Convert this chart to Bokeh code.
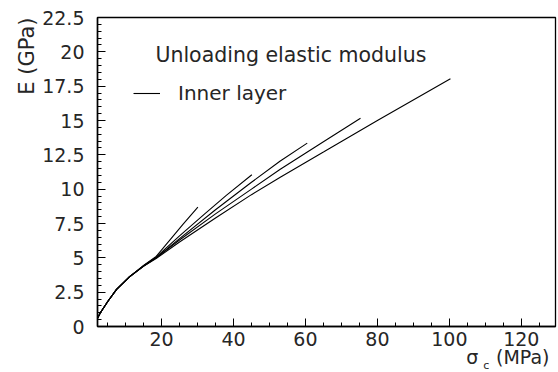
from bokeh.plotting import figure
from bokeh.models import FixedTicker, Label, Legend, LegendItem, Range1d, LinearAxis, Title
from bokeh.embed import file_html
from bokeh.resources import INLINE

# ---- data (sigma_c in MPa, E in GPa) ----
s1 = [2.1, 3, 5, 7.5, 11, 15, 18.5, 22, 26, 30.1]
e1 = [0.55, 1.0, 1.8, 2.7, 3.6, 4.45, 5.1, 6.2, 7.45, 8.69]
s2 = [2.1, 3, 5, 7.5, 11, 15, 18.5, 25, 32, 38, 45.1]
e2 = [0.55, 1.0, 1.8, 2.7, 3.6, 4.42, 5.05, 6.6, 8.2, 9.55, 11.05]
s3 = [2.1, 3, 5, 7.5, 11, 15, 18.5, 25, 35, 45, 53, 60.5]
e3 = [0.55, 1.0, 1.8, 2.7, 3.6, 4.4, 5.0, 6.4, 8.5, 10.5, 12.05, 13.35]
s4 = [2.1, 3, 5, 7.5, 11, 15, 18.5, 25, 35, 45, 53, 65, 75.3]
e4 = [0.55, 1.0, 1.8, 2.7, 3.6, 4.4, 5.0, 6.3, 8.2, 10.0, 11.45, 13.45, 15.17]
s5 = [2.1, 3, 5, 7.5, 11, 15, 18.5, 25, 35, 45, 53, 65, 80, 100.3]
e5 = [0.55, 1.0, 1.8, 2.7, 3.6, 4.38, 4.95, 6.15, 7.9, 9.6, 10.87, 12.7, 15.0, 18.04]
curves = [(s1, e1), (s2, e2), (s3, e3), (s4, e4), (s5, e5)]

x_ticks = [20, 40, 60, 80, 100, 120]
y_ticks = [0, 2.5, 5, 7.5, 10, 12.5, 15, 17.5, 20, 22.5]
y_tick_labels = {0: "0", 2.5: "2.5", 5: "5", 7.5: "7.5", 10: "10", 12.5: "12.5",
                 15: "15", 17.5: "17.5", 20: "20", 22.5: "22.5"}
title_text = "Unloading elastic modulus"
legend_text = "Inner layer"
y_title = "E (GPa)"
x_title_parts = {106.4: "σ", 120.4: "(MPa)"}
x_title_sub = "c"

FONT = "DejaVu Sans"
TXT = "#262626"

p = figure(width=558, height=372, output_backend="svg", toolbar_location=None,
           x_range=Range1d(2.2, 129.5), y_range=Range1d(0, 22.5),
           min_border_left=97, min_border_right=3, min_border_top=17, min_border_bottom=46)
p.background_fill_color = "white"
p.border_fill_color = "white"
p.outline_line_color = "black"
p.outline_line_width = 1.3
p.grid.visible = False

for ax in (p.xaxis[0], p.yaxis[0]):
    ax.axis_line_color = "black"
    ax.axis_line_width = 1.5
    ax.major_tick_in = 8
    ax.major_tick_out = 0
    ax.minor_tick_in = 4
    ax.minor_tick_out = 0
    ax.major_tick_line_color = "black"
    ax.minor_tick_line_color = "black"
    ax.major_label_text_font = FONT
    ax.major_label_text_font_size = "19px"
    ax.major_label_text_color = TXT

p.xaxis.ticker = FixedTicker(ticks=x_ticks, minor_ticks=list(range(5, 130, 5)))
p.yaxis.ticker = FixedTicker(ticks=y_ticks, minor_ticks=[i * 0.5 for i in range(0, 46)])
p.yaxis.major_label_overrides = y_tick_labels
p.xaxis.major_label_standoff = 5
p.yaxis.major_label_standoff = 13

# x-axis title as an extra, line-less axis whose tick labels sit at data positions
xt = LinearAxis(ticker=FixedTicker(ticks=list(x_title_parts.keys()), minor_ticks=[]),
                major_label_overrides=x_title_parts, axis_line_color=None,
                major_tick_line_color=None, minor_tick_line_color=None,
                major_tick_in=0, major_tick_out=0,
                major_label_standoff=-3, major_label_text_font=FONT,
                major_label_text_font_size="19px", major_label_text_color=TXT)
p.add_layout(xt, "below")

# y-axis title at the top of the left side
p.add_layout(Title(text=y_title, align="right", text_font=FONT, text_font_size="21px",
                   text_font_style="normal", text_color=TXT, standoff=2), "left")

# subscript "c" of sigma (drawn from the left side panel, positioned in data space)
p.add_layout(Label(x=109.4, y=-2.85, text=x_title_sub, text_font=FONT,
                   text_font_size="11px", text_baseline="middle", text_color=TXT), "left")

renderers = []
for s, e in curves:
    r = p.line(s, e, line_color="black", line_width=1.1)
    renderers.append(r)

legend = Legend(items=[LegendItem(label=legend_text, renderers=[renderers[-1]])],
                location=(36, 221), padding=0, margin=0, spacing=0,
                glyph_width=27, glyph_height=20, label_height=20, label_standoff=18,
                label_text_font=FONT, label_text_font_size="20px", label_text_color=TXT,
                border_line_color=None, background_fill_alpha=0)
p.add_layout(legend, "center")

p.add_layout(Label(x=18.3, y=19.75, text=title_text, text_font=FONT,
                   text_font_size="20.5px", text_baseline="middle", text_color=TXT))

open("out.html", "w").write(file_html(p, INLINE))
